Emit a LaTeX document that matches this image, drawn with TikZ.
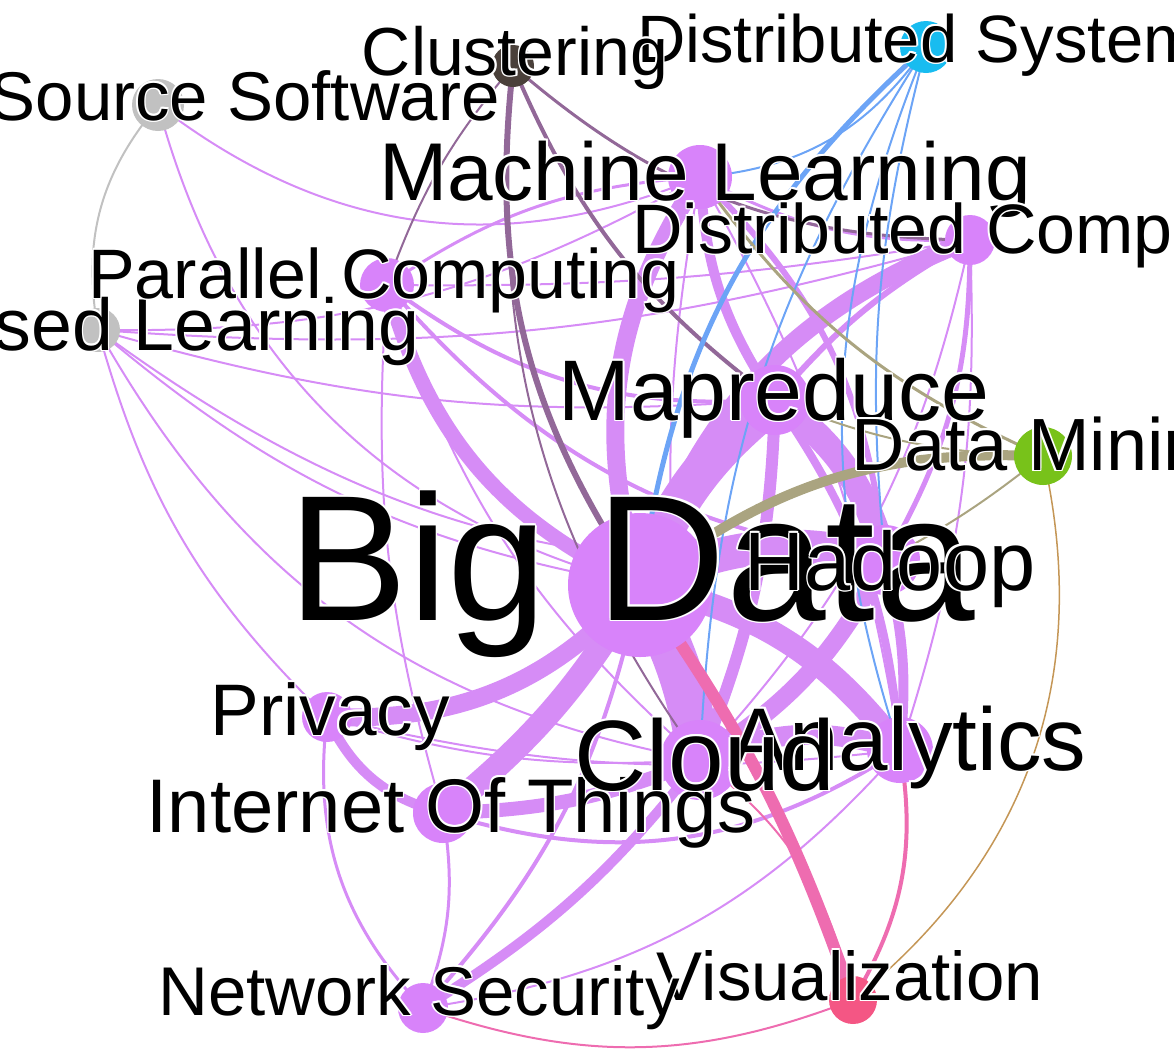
\documentclass[tikz,border=0pt]{standalone}
\usepackage{fontspec}
\setmainfont{Liberation Sans}
\usepackage{contour}
\contourlength{1.5pt}
\contournumber{8}

\pgfdeclarelayer{edges}
\pgfsetlayers{edges,main}

\definecolor{vnode}{RGB}{216,131,250}
\definecolor{vedgecol}{RGB}{214,140,246}
\definecolor{greynode}{RGB}{193,193,193}
\definecolor{clnode}{RGB}{74,64,58}
\definecolor{cledgecol}{RGB}{146,104,152}
\definecolor{dsnode}{RGB}{24,188,240}
\definecolor{dsedgecol}{RGB}{108,164,246}
\definecolor{dmnode}{RGB}{120,194,26}
\definecolor{dmedgecol}{RGB}{170,164,128}
\definecolor{tanedgecol}{RGB}{196,150,86}
\definecolor{visnode}{RGB}{244,86,132}
\definecolor{visedgecol}{RGB}{238,108,176}

\newcommand\glbl[2]{\fontsize{#1}{#1}\selectfont\contour{white}{#2}}

\tikzset{
  dot/.style={circle, inner sep=0pt, minimum size=#1},
  lbl/.style={inner sep=0pt, text=black},
  vedge/.style={draw=vedgecol, line width=#1},
  gedge/.style={draw=greynode, line width=#1},
  cledge/.style={draw=cledgecol, line width=#1},
  dsedge/.style={draw=dsedgecol, line width=#1},
  dmedge/.style={draw=dmedgecol, line width=#1},
  visedge/.style={draw=visedgecol, line width=#1},
}

\begin{document}
\begin{tikzpicture}[x=1pt,y=-1pt]
\useasboundingbox (0,0) rectangle (1174,1061);
\clip (0,0) rectangle (1174,1061);

% nodes
\node[dot=144pt, fill=vnode] (bd) at (640,585) {};
\node[dot=70pt, fill=vnode] (mr) at (775,400) {};
\node[dot=70pt, fill=vnode] (hd) at (885,560) {};
\node[dot=64pt, fill=vnode] (ml) at (700,177) {};
\node[dot=50pt, fill=vnode] (dc) at (970,240) {};
\node[dot=54pt, fill=vnode] (pc) at (387,285) {};
\node[dot=44pt, fill=greynode] (sl) at (98,330) {};
\node[dot=52pt, fill=greynode] (oss) at (158,105) {};
\node[dot=42pt, fill=clnode] (cl) at (513,66) {};
\node[dot=52pt, fill=dsnode] (ds) at (926,47) {};
\node[dot=58pt, fill=dmnode] (dm) at (1043,456) {};
\node[dot=50pt, fill=vnode] (pr) at (327,717) {};
\node[dot=60pt, fill=vnode] (iot) at (443,813) {};
\node[dot=80pt, fill=vnode] (cd) at (700,760) {};
\node[dot=66pt, fill=vnode] (an) at (900,750) {};
\node[dot=50pt, fill=vnode] (ns) at (423,1008) {};
\node[dot=48pt, fill=visnode] (vis) at (853,1000) {};

\begin{pgfonlayer}{edges}
% big data
\draw[vedge=40] (bd.center) to[bend left=15] (mr.center);
\draw[vedge=34] (bd.center) to[bend left=20] (hd.center);
\draw[vedge=44] (bd.center) to[bend left=10] (cd.center);
\draw[vedge=24] (bd.center) to[bend left=20] (an.center);
\draw[vedge=24] (iot.center) to[bend right=10] (bd.center);
\draw[vedge=18] (pr.center) to[bend right=25] (bd.center);
\draw[vedge=15] (pc.center) to[bend right=25] (bd.center);
\draw[vedge=18] (bd.center) to[bend left=25] (ml.center);
\draw[vedge=18] (bd.center) to[bend left=25] (dc.center);
\draw[vedge=4] (ns.center) to[bend right=15] (bd.center);
\draw[vedge=2] (oss.center) to[bend right=30] (bd.center);
\draw[vedge=2] (sl.center) to[bend right=15] (bd.center);
\draw[vedge=2] (sl.center) to[bend right=20] (hd.center);
\draw[vedge=2] (sl.center) to[bend right=25] (cd.center);
\draw[vedge=2] (sl.center) to[bend right=10] (mr.center);
% mapreduce, hadoop
\draw[vedge=26] (mr.center) to[bend left=20] (hd.center);
\draw[vedge=6] (mr.center) to[bend left=10] (dc.center);
\draw[vedge=10] (mr.center) to[bend left=15] (ml.center);
\draw[vedge=4] (pc.center) to[bend right=20] (mr.center);
\draw[vedge=12] (mr.center) to[bend left=10] (cd.center);
\draw[vedge=8] (mr.center) to[bend left=15] (an.center);
\draw[vedge=18] (hd.center) to[bend left=15] (cd.center);
\draw[vedge=10] (hd.center) to[bend left=10] (an.center);
\draw[vedge=5] (hd.center) to[bend right=15] (dc.center);
\draw[vedge=6] (hd.center) to[bend right=20] (ml.center);
\draw[vedge=4] (pc.center) to[bend right=20] (hd.center);
% upper group
\draw[vedge=3] (ml.center) to[bend right=15] (dc.center);
\draw[vedge=3] (pc.center) to[bend left=15] (ml.center);
\draw[vedge=2] (pc.center) to[bend right=5] (dc.center);
\draw[vedge=2] (dc.center) to[bend left=10] (an.center);
\draw[vedge=2] (dc.center) to[bend left=15] (cd.center);
\draw[vedge=2] (pc.center) to[bend right=10] (iot.center);
\draw[vedge=2] (pc.center) to[bend right=15] (cd.center);
\draw[vedge=2] (ml.center) to[bend right=10] (cd.center);
\draw[vedge=2] (ml.center) to[bend left=10] (an.center);
\draw[vedge=2] (oss.center) to[bend right=30] (ml.center);
\draw[vedge=2] (sl.center) to[bend right=10] (dc.center);
\draw[vedge=2] (sl.center) to[bend right=15] (ml.center);
\draw[vedge=2] (sl.center) to[bend right=15] (pr.center);
% lower group
\draw[vedge=20] (cd.center) to[bend left=20] (an.center);
\draw[vedge=14] (iot.center) to[bend right=10] (cd.center);
\draw[vedge=4] (iot.center) to[bend right=25] (an.center);
\draw[vedge=10] (pr.center) to[bend right=25] (iot.center);
\draw[vedge=3] (pr.center) to[bend right=25] (ns.center);
\draw[vedge=3] (iot.center) to[bend left=15] (ns.center);
\draw[vedge=10] (ns.center) to[bend right=10] (cd.center);
\draw[vedge=2] (ns.center) to[bend right=20] (an.center);
\draw[vedge=2] (pr.center) to[bend right=10] (cd.center);
\draw[vedge=2] (pr.center) to[bend right=10] (an.center);
% open source
\draw[gedge=2] (oss.center) to[bend right=25] (sl.center);
% clustering
\draw[cledge=6] (cl.center) to[bend right=20] (bd.center);
\draw[cledge=2] (cl.center) to[bend right=20] (cd.center);
\draw[cledge=4] (cl.center) to[bend right=15] (mr.center);
\draw[cledge=3] (cl.center) to[bend right=20] (dc.center);
\draw[cledge=2] (cl.center) to[bend right=10] (pc.center);
% distributed systems
\draw[dsedge=5] (ds.center) to[bend right=20] (bd.center);
\draw[dsedge=2] (ds.center) to[bend left=25] (ml.center);
\draw[dsedge=2] (ds.center) to[bend right=20] (an.center);
\draw[dsedge=2] (ds.center) to[bend right=15] (cd.center);
\draw[dsedge=2] (ds.center) to[bend right=10] (hd.center);
% data mining
\draw[dmedge=10] (dm.center) to[bend right=20] (bd.center);
\draw[dmedge=2] (dm.center) to[bend left=10] (mr.center);
\draw[dmedge=2] (dm.center) to[bend left=5] (hd.center);
\draw[dmedge=3] (dm.center) to[bend left=15] (ml.center);
\draw[draw=tanedgecol, line width=1.5] (dm.center) to[bend left=32] (vis.center);
% visualization
\draw[visedge=12] (bd.center) to[bend left=8] (vis.center);
\draw[visedge=4] (an.center) to[bend left=20] (vis.center);
\draw[visedge=2] (cd.center) to[bend left=20] (vis.center);
\draw[visedge=2] (ns.center) to[bend right=20] (vis.center);
\end{pgfonlayer}

% labels
\node[lbl, anchor=base] (bd-l) at (632,620) {\glbl{179}{Big Data}};
\node[lbl, anchor=base] (hd-l) at (890,590) {\glbl{83}{Hadoop}};
\node[lbl, anchor=base] (mr-l) at (774,420) {\glbl{86}{Mapreduce}};
\node[lbl, anchor=base west] (dm-l) at (851,470) {\glbl{74}{Data Mining}};
\node[lbl, anchor=base] (an-l) at (908,770) {\glbl{89}{Analytics}};
\node[lbl, anchor=base] (iot-l) at (451,832) {\glbl{76}{Internet Of Things}};
\node[lbl, anchor=base] (cd-l) at (705,790) {\glbl{100}{Cloud}};
\node[lbl, anchor=base] (pr-l) at (330,735) {\glbl{73}{Privacy}};
\node[lbl, anchor=base] (vis-l) at (850,1000) {\glbl{69}{Visualization}};
\node[lbl, anchor=base] (ns-l) at (419,1015) {\glbl{69}{Network Security}};
\node[lbl, anchor=base east] (sl-l) at (420,350) {\glbl{73.5}{Supervised Learning}};
\node[lbl, anchor=base] (pc-l) at (384,298) {\glbl{70}{Parallel Computing}};
\node[lbl, anchor=base east] (oss-l) at (500,120) {\glbl{69}{Open Source Software}};
\node[lbl, anchor=base] (ml-l) at (705,200) {\glbl{82}{Machine Learning}};
\node[lbl, anchor=base west] (dc-l) at (632,253) {\glbl{70}{Distributed Computing}};
\node[lbl, anchor=base west] (ds-l) at (637,62) {\glbl{67}{Distributed Systems}};
\node[lbl, anchor=base] (cl-l) at (515,75) {\glbl{68}{Clustering}};
\end{tikzpicture}
\end{document}
